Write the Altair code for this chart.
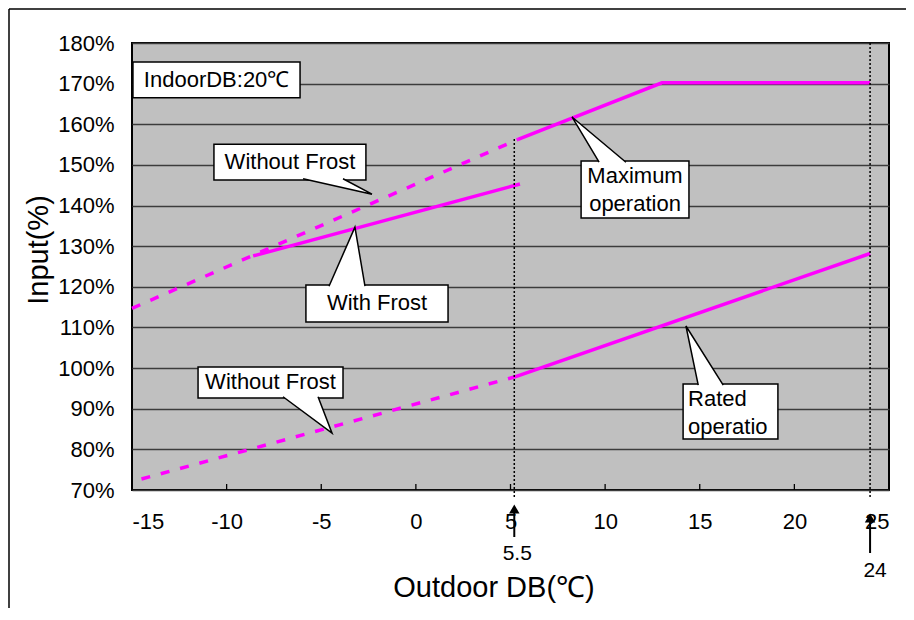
import altair as alt
import pandas as pd

FONT = "Liberation Sans"
MAGENTA = "#FF00FF"

# ---- axes ----
x_domain = [-15, 25]
y_domain = [70, 180]
y_ticks = [70, 80, 90, 100, 110, 120, 130, 140, 150, 160, 170, 180]
x_ticks = [-15, -10, -5, 0, 5, 10, 15, 20, 25]
inner_ticks = [-10, -5, 0, 5, 10, 15, 20]

# ---- series ----
max_dash_x = [-15, 5.4]
max_dash_y = [114.7, 156.3]
max_solid_x = [5.4, 13, 24]
max_solid_y = [156.3, 170.2, 170.2]
frost_x = [-8.6, 5.5]
frost_y = [127.6, 145.3]
rated_dash_x = [-14.5, 5.2]
rated_dash_y = [72.7, 97.8]
rated_solid_x = [5.2, 24]
rated_solid_y = [97.8, 128.2]

# ---- guide markers ----
guide_x = [5.2, 24]
guide_top = [156.4, 180]
guide_labels = ["5.5", "24"]

# ---- callout boxes (data units) ----
box_id = ["indoor", "wf_up", "with", "max", "rated", "wf_low"]
box_x1 = [-14.95, -10.67, -5.81, 8.73, 14.12, -11.51]
box_x2 = [-6.12, -2.64, 1.70, 14.43, 19.13, -3.85]
box_y1 = [175.3, 155.1, 120.45, 150.96, 96.1, 100.28]
box_y2 = [166.5, 146.3, 111.35, 136.94, 82.56, 92.65]

# wedges: base1 -> tip -> base2
wedge_id = ["wf_up"] * 3 + ["with"] * 3 + ["max"] * 3 + ["rated"] * 3 + ["wf_low"] * 3
wedge_ord = [0, 1, 2] * 5
wedge_x = [-5.96, -2.32, -3.85,
           -4.59, -3.22, -2.69,
           9.68, 8.25, 11.10,
           14.92, 14.27, 16.24,
           -7.02, -4.43, -5.17]
wedge_y = [146.6, 142.8, 146.6,
           120.15, 134.7, 120.15,
           150.66, 161.8, 150.66,
           95.8, 110.36, 95.8,
           92.95, 84.0, 92.95]

# labels
lab_text = ["IndoorDB:20℃", "Without Frost", "With Frost", "Maximum", "operation",
            "Without Frost"]
lab_x = [-10.53, -6.65, -2.05, 11.58, 11.58, -7.68]
lab_y = [170.9, 150.7, 115.9, 147.3, 140.4, 96.5]
rated_text = ["Rated", "operatio"]
rated_x = [14.38, 14.38]
rated_y = [92.4, 85.5]

xs = alt.Scale(domain=x_domain, nice=False, zero=False)
ys = alt.Scale(domain=y_domain, nice=False, zero=False)

def line_df(xv, yv):
    return pd.DataFrame({"x": xv, "y": yv})

x_axis = alt.Axis(values=x_ticks, grid=False, ticks=False, domain=False,
                  labelFontSize=22, labelFont=FONT, labelColor="black",
                  labelPadding=21, labelExpr="'' + datum.value", title=None)
y_axis = alt.Axis(values=y_ticks, grid=True, gridColor="#3c3c3c",
                  gridWidth=1.3, ticks=False, domain=False,
                  labelFontSize=22, labelFont=FONT, labelColor="black",
                  labelPadding=18, labelExpr="datum.value + '%'", title=None)
Xn = alt.X("x:Q", scale=xs, axis=x_axis)
Yn = alt.Y("y:Q", scale=ys, axis=y_axis)

layers = []
for xv, yv in [(max_solid_x, max_solid_y), (frost_x, frost_y),
               (rated_solid_x, rated_solid_y)]:
    layers.append(alt.Chart(line_df(xv, yv)).mark_line(color=MAGENTA, strokeWidth=3.5)
                  .encode(x=Xn, y=Yn))
for xv, yv in [(max_dash_x, max_dash_y), (rated_dash_x, rated_dash_y)]:
    layers.append(alt.Chart(line_df(xv, yv)).mark_line(color=MAGENTA, strokeWidth=3.5,
                                                       strokeDash=[9, 11])
                  .encode(x=Xn, y=Yn))

# inner ticks on x axis
tick_df = pd.DataFrame({"x": inner_ticks, "y": [70] * len(inner_ticks)})
layers.append(alt.Chart(tick_df).mark_rule(color="black", strokeWidth=1.3)
              .encode(x=Xn, y=Yn, y2=alt.value(441)))

# dotted guides
g_df = pd.DataFrame({"x": guide_x, "y": guide_top, "lab": guide_labels})
layers.append(alt.Chart(g_df).mark_rule(color="black", strokeWidth=1.5, strokeDash=[2, 2])
              .encode(x=Xn, y=Yn, y2=alt.value(454)))

# arrows
g1 = g_df.iloc[[0]]
g2 = g_df.iloc[[1]]
layers.append(alt.Chart(g1).mark_rule(color="black", strokeWidth=2)
              .encode(x=Xn, y=alt.value(468), y2=alt.value(494)))
layers.append(alt.Chart(g2).mark_rule(color="black", strokeWidth=2)
              .encode(x=Xn, y=alt.value(477), y2=alt.value(510)))
layers.append(alt.Chart(g1).mark_point(shape="triangle-up", filled=True, color="black",
                                        size=110, opacity=1)
              .encode(x=Xn, y=alt.value(466)))
layers.append(alt.Chart(g2).mark_point(shape="triangle-up", filled=True, color="black",
                                        size=110, opacity=1)
              .encode(x=Xn, y=alt.value(475)))
layers.append(alt.Chart(g1).mark_text(font=FONT, fontSize=21, color="black", dx=3,
                                       baseline="middle")
              .encode(x=Xn, y=alt.value(511), text="lab:N"))
layers.append(alt.Chart(g2).mark_text(font=FONT, fontSize=21, color="black", dx=5,
                                       baseline="middle")
              .encode(x=Xn, y=alt.value(528), text="lab:N"))

# callout boxes
b_df = pd.DataFrame({"id": box_id, "x": box_x1, "x2": box_x2, "y": box_y1, "y2": box_y2})
layers.append(alt.Chart(b_df).mark_rect(fill="white", stroke="black", strokeWidth=1.5)
              .encode(x=Xn, x2="x2:Q", y=Yn, y2="y2:Q"))

w_df = pd.DataFrame({"id": wedge_id, "o": wedge_ord, "x": wedge_x, "y": wedge_y})
layers.append(alt.Chart(w_df).mark_line(fill="white", stroke="black", strokeWidth=1.5,
                                        strokeJoin="miter")
              .encode(x=Xn, y=Yn, detail="id:N", order="o:Q"))

l_df = pd.DataFrame({"t": lab_text, "x": lab_x, "y": lab_y})
layers.append(alt.Chart(l_df).mark_text(font=FONT, fontSize=22, color="black",
                                         baseline="middle", align="center")
              .encode(x=Xn, y=Yn, text="t:N"))
r_df = pd.DataFrame({"t": rated_text, "x": rated_x, "y": rated_y})
layers.append(alt.Chart(r_df).mark_text(font=FONT, fontSize=22, color="black",
                                         baseline="middle", align="left")
              .encode(x=Xn, y=Yn, text="t:N"))

# axis titles
layers.append(alt.Chart(pd.DataFrame({"t": ["Outdoor DB(℃)"]})).mark_text(
    font=FONT, fontSize=29, color="black", baseline="alphabetic", align="center")
    .encode(x=alt.value(362), y=alt.value(554), text="t:N"))
layers.append(alt.Chart(pd.DataFrame({"t": ["Input(%)"]})).mark_text(
    font=FONT, fontSize=29, color="black", baseline="middle", align="center", angle=270)
    .encode(x=alt.value(-93), y=alt.value(207), text="t:N"))

# outer frame (top and left)
frame_df = pd.DataFrame({"k": [0]})
layers.append(alt.Chart(frame_df).mark_rule(color="black", strokeWidth=1.5)
              .encode(x=alt.value(-123), x2=alt.value(790), y=alt.value(-34)))
layers.append(alt.Chart(frame_df).mark_rule(color="black", strokeWidth=1.5)
              .encode(x=alt.value(-123), y=alt.value(-34), y2=alt.value(600)))

chart = alt.layer(*layers).properties(
    width=757, height=447,
    autosize=alt.AutoSizeParams(type="none"),
    padding={"left": 124, "top": 35, "right": 17, "bottom": 118},
    background="white",
).configure_view(fill="#C0C0C0", stroke="black", strokeWidth=2)

chart.save("out.html", embed_options={"renderer": "svg", "actions": False})
